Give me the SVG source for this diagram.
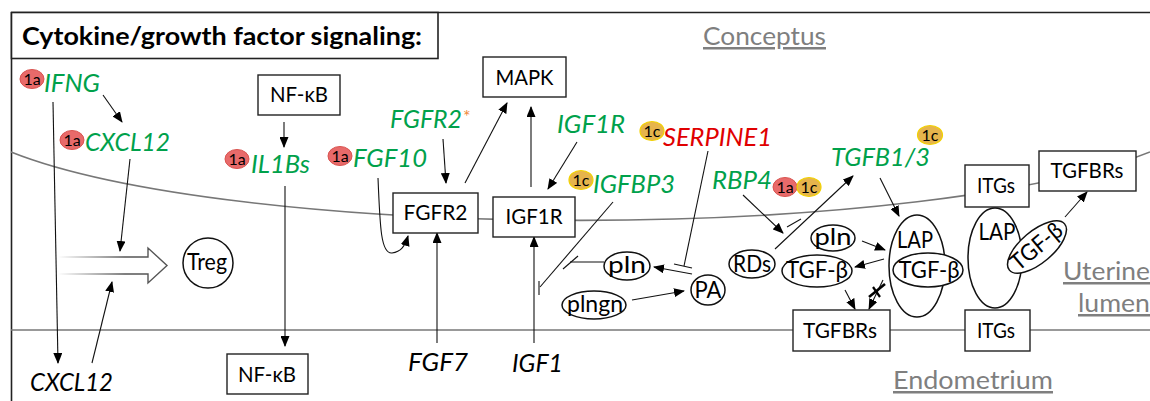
<svg xmlns="http://www.w3.org/2000/svg" width="1150" height="401" viewBox="0 0 1150 401">
<defs>
<marker id="ah" markerUnits="userSpaceOnUse" markerWidth="11" markerHeight="9" refX="10" refY="4.5" orient="auto">
<path d="M0,0 L11,4.5 L0,9 z" fill="#000"/>
</marker>
<linearGradient id="fade" gradientUnits="userSpaceOnUse" x1="58" y1="0" x2="125" y2="0">
<stop offset="0" stop-color="#555" stop-opacity="0"/>
<stop offset="1" stop-color="#555" stop-opacity="1"/>
</linearGradient>
<style>
text{font-family:Lato,"Open Sans","Liberation Sans",sans-serif;}
.box{fill:#fff;stroke:#222;stroke-width:1.4;}
.ell{fill:#fff;stroke:#111;stroke-width:1.5;}
.bl{font-size:21px;fill:#000;text-anchor:middle;}
.el{font-size:23px;fill:#000;text-anchor:middle;}
.gene{font-size:25px;font-style:italic;fill:#00a14b;}
.red{fill:#e00000;}
.blk{font-size:25px;font-style:italic;fill:#000;}
.gray{font-size:25px;fill:#7f7f7f;text-decoration:underline;}
.ba{fill:#e86a6a;stroke:#d9534f;stroke-width:1;}
.bc{fill:#e6b44c;stroke:#f2d200;stroke-width:1.2;}
.bt{font-size:16px;fill:#000;text-anchor:middle;}
.c{fill:none;stroke:#111;stroke-width:1.1;}
.a{fill:none;stroke:#111;stroke-width:1.1;marker-end:url(#ah);}
.mem{fill:none;stroke:#777;stroke-width:1.6;}
</style>
</defs>
<rect width="1150" height="401" fill="#fff"/>

<g id="frame">
<line x1="11" y1="12.5" x2="1150" y2="12.5" stroke="#222" stroke-width="1.6"/>
<line x1="11.5" y1="12" x2="11.5" y2="401" stroke="#222" stroke-width="1.6"/>
<rect x="11.5" y="12.5" width="426.5" height="46" fill="#fff" stroke="#222" stroke-width="1.6"/>
<text x="22" y="45" font-size="25" font-weight="bold" textLength="400" lengthAdjust="spacingAndGlyphs">Cytokine/growth factor signaling:</text>
</g>

<g id="membranes">
<path class="mem" d="M11,152 A631,120 0 0,0 1150,152"/>
<line class="mem" x1="11" y1="330" x2="1150" y2="330"/>
</g>

<g id="labels">
<text class="gray" x="703" y="45" textLength="123" lengthAdjust="spacingAndGlyphs">Conceptus</text>
<text class="gray" x="1063" y="280" textLength="87" lengthAdjust="spacingAndGlyphs">Uterine</text>
<text class="gray" x="1078" y="312" textLength="72" lengthAdjust="spacingAndGlyphs">lumen</text>
<text class="gray" x="893" y="389" textLength="160" lengthAdjust="spacingAndGlyphs">Endometrium</text>
</g>

<g id="connectors">
<line class="a" x1="53" y1="102" x2="58" y2="363"/>
<line class="a" x1="103" y1="95" x2="122" y2="122"/>
<line class="a" x1="130" y1="159" x2="120" y2="251"/>
<line class="a" x1="92" y1="363" x2="112" y2="282"/>
<path d="M58,257 L148,257 L148,248 L167,265.5 L148,283 L148,274 L58,274" fill="#fff" stroke="url(#fade)" stroke-width="1.4"/>
<line class="a" x1="284" y1="122" x2="284" y2="147"/>
<line class="a" x1="285" y1="186" x2="285" y2="346"/>
<path class="a" d="M378,178 C380,228 381,254 392,253 C401,252 405,246 408,236"/>
<line class="a" x1="443" y1="139" x2="446" y2="183"/>
<line class="a" x1="465" y1="183" x2="507" y2="103"/>
<line class="a" x1="531" y1="187" x2="531" y2="107"/>
<line class="a" x1="577" y1="142" x2="548" y2="189"/>
<line class="a" x1="437" y1="343" x2="437" y2="233"/>
<line class="a" x1="534" y1="343" x2="534" y2="237"/>
<line class="c" x1="613" y1="202" x2="540" y2="287"/>
<line class="c" x1="539" y1="281" x2="539" y2="295"/>
<line class="c" x1="604" y1="262" x2="570" y2="262"/>
<line class="c" x1="563" y1="269" x2="578" y2="256"/>
<line class="c" x1="708" y1="151" x2="684" y2="266"/>
<line class="c" x1="674" y1="264" x2="692" y2="268"/>
<line class="a" x1="692" y1="274" x2="654" y2="267"/>
<line class="a" x1="632" y1="300" x2="684" y2="291"/>
<line class="a" x1="743" y1="195" x2="783" y2="233"/>
<line class="c" x1="787" y1="227" x2="801" y2="219"/>
<line class="a" x1="775" y1="249" x2="853" y2="176"/>
<line class="a" x1="880" y1="178" x2="899" y2="216"/>
<line class="a" x1="862" y1="241" x2="885" y2="250"/>
<line class="a" x1="884" y1="259" x2="855" y2="267"/>
<line class="a" x1="845" y1="290" x2="855" y2="309"/>
<line class="a" x1="883" y1="280" x2="869" y2="309"/>
<line x1="869" y1="297" x2="885" y2="284" stroke="#000" stroke-width="2.6"/>
<line x1="873" y1="287" x2="880" y2="297" stroke="#000" stroke-width="2.2"/>
<line class="a" x1="1065" y1="217" x2="1087" y2="192"/>
</g>

<g id="nfkb-top"><rect class="box" x="258" y="75" width="82" height="40"/><text class="bl" x="299" y="102" textLength="58" lengthAdjust="spacingAndGlyphs">NF-κB</text></g>
<g id="nfkb-bottom"><rect class="box" x="227" y="354" width="81" height="40"/><text class="bl" x="267" y="382" textLength="58" lengthAdjust="spacingAndGlyphs">NF-κB</text></g>
<g id="mapk"><rect class="box" x="483" y="57" width="83" height="40"/><text class="bl" x="524.5" y="85" textLength="58" lengthAdjust="spacingAndGlyphs">MAPK</text></g>
<g id="fgfr2-box"><rect class="box" x="393" y="193" width="85" height="40"/><text class="bl" x="435.5" y="220" textLength="64" lengthAdjust="spacingAndGlyphs">FGFR2</text></g>
<g id="igf1r-box"><rect class="box" x="493" y="197" width="82" height="40"/><text class="bl" x="534" y="224" textLength="57" lengthAdjust="spacingAndGlyphs">IGF1R</text></g>
<g id="itgs-top"><rect class="box" x="965" y="165" width="64" height="42"/><text class="bl" x="996" y="193" textLength="38" lengthAdjust="spacingAndGlyphs">ITGs</text></g>
<g id="tgfbrs-top"><rect class="box" x="1039" y="151" width="97" height="40"/><text class="bl" x="1087" y="178" textLength="73" lengthAdjust="spacingAndGlyphs">TGFBRs</text></g>
<g id="tgfbrs-bottom"><rect class="box" x="793" y="310" width="97" height="41"/><text class="bl" x="840" y="338" textLength="74" lengthAdjust="spacingAndGlyphs">TGFBRs</text></g>
<g id="itgs-bottom"><rect class="box" x="965" y="310" width="65" height="41"/><text class="bl" x="996" y="338" textLength="38" lengthAdjust="spacingAndGlyphs">ITGs</text></g>

<g id="treg"><circle class="ell" cx="208" cy="263" r="25"/><text class="el" x="207" y="270" textLength="40" lengthAdjust="spacingAndGlyphs">Treg</text></g>
<g id="pln-left"><ellipse class="ell" cx="627" cy="266" rx="23" ry="14"/><text class="el" x="627" y="273" textLength="38" lengthAdjust="spacingAndGlyphs">pln</text></g>
<g id="plngn"><ellipse class="ell" cx="594" cy="305" rx="32" ry="14"/><text class="el" x="595" y="312" textLength="56" lengthAdjust="spacingAndGlyphs">plngn</text></g>
<g id="pa"><ellipse class="ell" cx="708" cy="290" rx="17" ry="15"/><text class="el" x="708" y="298" textLength="27" lengthAdjust="spacingAndGlyphs">PA</text></g>
<g id="rds"><ellipse class="ell" cx="752" cy="264" rx="23" ry="14"/><text class="el" x="752" y="272" textLength="38" lengthAdjust="spacingAndGlyphs">RDs</text></g>
<g id="pln-right"><ellipse class="ell" cx="833" cy="238" rx="22" ry="13"/><text class="el" x="833" y="245" textLength="37" lengthAdjust="spacingAndGlyphs">pln</text></g>
<g id="tgfb-left"><ellipse class="ell" cx="817" cy="271" rx="35" ry="16"/><text class="el" x="817" y="278" textLength="62" lengthAdjust="spacingAndGlyphs">TGF-β</text></g>
<g id="lap-complex"><ellipse class="ell" cx="917" cy="266" rx="28" ry="51"/><text class="el" x="915" y="248" textLength="36" lengthAdjust="spacingAndGlyphs">LAP</text>
<ellipse class="ell" cx="928" cy="270" rx="35" ry="17"/><text class="el" x="929" y="278" textLength="61" lengthAdjust="spacingAndGlyphs">TGF-β</text></g>
<g id="lap-right"><ellipse class="ell" cx="995" cy="258" rx="27" ry="50"/><text class="el" x="997" y="240" textLength="37" lengthAdjust="spacingAndGlyphs">LAP</text>
<g transform="translate(1037,247) rotate(-40)"><ellipse class="ell" cx="0" cy="0" rx="36" ry="16"/><text class="el" x="0" y="7" textLength="60" lengthAdjust="spacingAndGlyphs">TGF-β</text></g></g>

<g id="ifng"><ellipse class="ba" cx="32" cy="79" rx="12" ry="9.5"/><text class="bt" x="32" y="85">1a</text><text class="gene" x="44" y="92" textLength="56" lengthAdjust="spacingAndGlyphs">IFNG</text></g>
<g id="cxcl12-green"><ellipse class="ba" cx="72" cy="140" rx="12" ry="9.5"/><text class="bt" x="72" y="146">1a</text><text class="gene" x="85" y="151" textLength="85" lengthAdjust="spacingAndGlyphs">CXCL12</text></g>
<g id="il1bs"><ellipse class="ba" cx="237" cy="159" rx="12" ry="9.5"/><text class="bt" x="237" y="165">1a</text><text class="gene" x="251" y="173" textLength="59" lengthAdjust="spacingAndGlyphs">IL1Bs</text></g>
<g id="fgf10"><ellipse class="ba" cx="340" cy="156" rx="12" ry="9.5"/><text class="bt" x="340" y="162">1a</text><text class="gene" x="353" y="167" textLength="74" lengthAdjust="spacingAndGlyphs">FGF10</text></g>
<g id="fgfr2-gene"><text class="gene" x="390" y="128" textLength="72" lengthAdjust="spacingAndGlyphs">FGFR2</text><text x="463" y="123" font-size="18" fill="#f08a3c">*</text></g>
<g id="igf1r-gene"><text class="gene" x="557" y="133" textLength="68" lengthAdjust="spacingAndGlyphs">IGF1R</text></g>
<g id="serpine1"><ellipse class="bc" cx="652" cy="131" rx="12" ry="9.5"/><text class="bt" x="652" y="137">1c</text><text class="gene red" x="663" y="146" textLength="109" lengthAdjust="spacingAndGlyphs">SERPINE1</text></g>
<g id="igfbp3"><ellipse class="bc" cx="581" cy="180" rx="12" ry="9.5"/><text class="bt" x="581" y="186">1c</text><text class="gene" x="593" y="193" textLength="82" lengthAdjust="spacingAndGlyphs">IGFBP3</text></g>
<g id="rbp4"><text class="gene" x="712" y="189" textLength="60" lengthAdjust="spacingAndGlyphs">RBP4</text><ellipse class="ba" cx="785" cy="187" rx="12" ry="9.5"/><text class="bt" x="785" y="193">1a</text><ellipse class="bc" cx="809" cy="187" rx="12" ry="9.5"/><text class="bt" x="809" y="193">1c</text></g>
<g id="tgfb13"><text class="gene" x="831" y="166" textLength="99" lengthAdjust="spacingAndGlyphs">TGFB1/3</text><ellipse class="bc" cx="930" cy="135" rx="12.5" ry="9.5"/><text class="bt" x="930" y="141">1c</text></g>

<g id="cxcl12-black"><text class="blk" x="30" y="391" textLength="83" lengthAdjust="spacingAndGlyphs">CXCL12</text></g>
<g id="fgf7"><text class="blk" x="408" y="371" textLength="60" lengthAdjust="spacingAndGlyphs">FGF7</text></g>
<g id="igf1"><text class="blk" x="512" y="372" textLength="51" lengthAdjust="spacingAndGlyphs">IGF1</text></g>
</svg>
